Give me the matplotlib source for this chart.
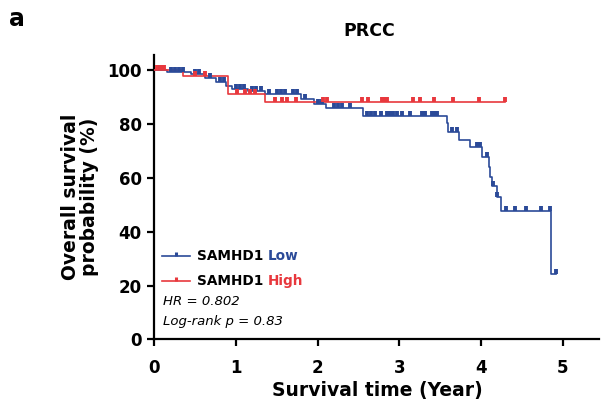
import matplotlib
matplotlib.use("Agg")
import matplotlib.pyplot as plt
from matplotlib.path import Path
import numpy as np

plt.rcParams['font.family'] = ['DejaVu Sans']

# Kaplan-Meier step data (time in years, survival %)
low_times = [0, 0.15, 0.45, 0.62, 0.75, 0.88, 0.95, 1.15, 1.35, 1.80, 1.95, 2.10, 2.55,
             3.58, 3.59, 3.73, 3.86, 4.01, 4.10, 4.11, 4.13, 4.19, 4.25, 4.86, 4.92]
low_surv = [100, 99.3, 98.3, 97.0, 95.5, 94.0, 93.0, 92.0, 91.0, 89.0, 87.2, 86.0, 83.0,
            80.1, 77.0, 74.1, 71.2, 67.7, 64.0, 60.3, 56.8, 52.7, 47.7, 24.1, 24.1]
low_censor = [0.05, 0.1, 0.2, 0.25, 0.3, 0.35, 0.5, 0.55, 0.68, 0.8, 0.85, 1.0, 1.05, 1.1,
              1.2, 1.25, 1.3, 1.4, 1.5, 1.55, 1.6, 1.7, 1.75, 1.85, 2.0, 2.05, 2.2, 2.25,
              2.3, 2.4, 2.6, 2.65, 2.7, 2.78, 2.85, 2.89, 2.92, 2.97, 3.03, 3.13, 3.28,
              3.31, 3.40, 3.42, 3.46, 3.64, 3.70, 3.95, 3.99, 4.07, 4.15, 4.19, 4.31,
              4.42, 4.55, 4.73, 4.85, 4.92]

high_times = [0, 0.35, 0.90, 1.35, 4.29]
high_surv = [100, 97.8, 91.0, 88.0, 88.0]
high_censor = [0.03, 0.08, 0.12, 0.5, 0.62, 1.01, 1.11, 1.17, 1.23, 1.48, 1.56, 1.63, 1.73,
               2.06, 2.11, 2.54, 2.61, 2.79, 2.82, 2.85, 3.17, 3.25, 3.42, 3.66, 3.97, 4.29]

x_ticks = [0, 1, 2, 3, 4, 5]
y_ticks = [0, 20, 40, 60, 80, 100]

BLUE = '#2b4a98'
RED = '#e8383d'

tick_marker = Path([(0, 0), (0, 1)], [Path.MOVETO, Path.LINETO])


def surv_at(times, surv, t):
    idx = np.searchsorted(times, t, side='right') - 1
    return surv[max(idx, 0)]


fig = plt.figure(figsize=(6.04, 4.16), dpi=100)
ax = fig.add_axes([0.2555, 0.184, 0.737, 0.684])

for times, surv, cens, col in [(low_times, low_surv, low_censor, BLUE),
                               (high_times, high_surv, high_censor, RED)]:
    ax.step(times, surv, where='post', color=col, lw=1.2, zorder=3)
    cy = [surv_at(times, surv, c) for c in cens]
    ax.plot(cens, cy, linestyle='none', marker=tick_marker, markersize=7,
            markeredgewidth=2.8, color=col, zorder=4)

ax.set_xlim(0, 5.45)
ax.set_ylim(0, 105.5)
ax.set_xticks(x_ticks)
ax.set_yticks(y_ticks)
ax.spines['top'].set_visible(False)
ax.spines['right'].set_visible(False)
for s in ['left', 'bottom']:
    ax.spines[s].set_linewidth(1.6)
ax.tick_params(axis='both', direction='out', length=5, width=1.6, labelsize=12)
ax.tick_params(axis='x', pad=9)
ax.tick_params(axis='y', pad=4)
for lab in ax.get_xticklabels() + ax.get_yticklabels():
    lab.set_fontweight('bold')

ax.set_xlabel('Survival time (Year)', fontsize=13.5, fontweight='bold', labelpad=3)
ax.set_ylabel('Overall survival\nprobability (%)', fontsize=13.5, fontweight='bold',
              labelpad=6, linespacing=1.0)
fig.text(0.611, 0.925, 'PRCC', fontsize=12.5, fontweight='bold', va='center', ha='center')
fig.text(0.015, 0.982, 'a', fontsize=17, fontweight='bold', va='top', ha='left')

# legend (manual)
leg_items = [(0.293, BLUE, 'Low'), (0.206, RED, 'High')]
fig.canvas.draw()
renderer = fig.canvas.get_renderer()
for yy, col, word in leg_items:
    ax.plot([0.017, 0.081], [yy, yy], color=col, lw=1.2, transform=ax.transAxes,
            clip_on=False)
    ax.plot([0.049], [yy], marker=tick_marker, markersize=6, markeredgewidth=2.2,
            color=col, transform=ax.transAxes, clip_on=False)
    t1 = ax.text(0.096, yy, 'SAMHD1 ', transform=ax.transAxes, fontsize=9.8,
                 fontweight='bold', va='center', ha='left', color='black')
    bb = t1.get_window_extent(renderer=renderer)
    x_end = ax.transAxes.inverted().transform((bb.x1, bb.y0))[0]
    ax.text(x_end, yy, word, transform=ax.transAxes, fontsize=9.8,
            fontweight='bold', va='center', ha='left', color=col)

ax.text(0.02, 0.135, 'HR = 0.802', transform=ax.transAxes, fontsize=9.5,
        fontstyle='italic', va='center', ha='left')
ax.text(0.02, 0.062, 'Log-rank p = 0.83', transform=ax.transAxes, fontsize=9.5,
        fontstyle='italic', va='center', ha='left')

fig.savefig('out.png', dpi=100)
